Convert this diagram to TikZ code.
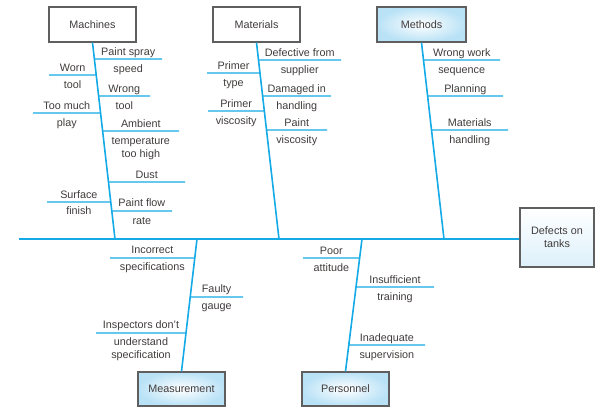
\documentclass[tikz,border=0pt]{standalone}
\usepackage{fontspec}
\setmainfont{Liberation Sans}
\usetikzlibrary{calc, positioning}
\definecolor{bonecyan}{RGB}{20,170,230}
\definecolor{boxgray}{RGB}{95,95,95}
\definecolor{boxblue}{RGB}{185,226,246}
\definecolor{txtgray}{RGB}{65,60,60}
\newcommand{\catfont}{\fontsize{10.8}{13}\selectfont}
\tikzset{
  catbox/.style={rectangle, draw=boxgray, line width=1.2pt, fill=white,
    minimum width=87pt, minimum height=35pt, font=\catfont, text=txtgray},
  bluebox/.style={catbox, inner color=white, outer color=boxblue},
  spine/.style={draw=bonecyan, line width=1.8pt},
  bone/.style={draw=bonecyan, line width=1.6pt},
  twig/.style={draw=bonecyan, line width=1.3pt},
  lbl/.style={font=\catfont, text=txtgray, inner sep=0pt, align=center}
}
% #1 bone name, #2 y, #3 free x, #4 upper text, #5 lower text
\newcommand{\cause}[5]{%
  \coordinate (#1#2) at (intersection of #1top--#1bot and 0,#2--600,#2);
  \coordinate (#1#2end) at (#3,#2);
  \draw[twig] (#1#2) -- node[lbl, anchor=base, yshift=4pt] {#4}
    node[lbl, anchor=base, yshift=-13pt] {#5} (#1#2end);
}
% same, lower text on two lines
\newcommand{\causetwo}[6]{%
  \coordinate (#1#2) at (intersection of #1top--#1bot and 0,#2--600,#2);
  \coordinate (#1#2end) at (#3,#2);
  \draw[twig] (#1#2) -- node[lbl, anchor=base, yshift=4pt] {#4}
    node[lbl, anchor=base, yshift=-13pt] {#5}
    node[lbl, anchor=base, yshift=-26pt] {#6} (#1#2end);
}

\begin{document}
\begin{tikzpicture}[x=1pt, y=-1pt]
    \useasboundingbox (0,0) rectangle (600,416);

    % Categories
    \node[catbox] (machines) at (92.5,24.5) {Machines};
    \node[catbox] (materials) at (256.5,24.5) {Materials};
    \node[bluebox, minimum width=89pt] (methods) at (421.5,24.5) {Methods};
    \node[bluebox, minimum height=34pt] (measure) at (181.5,389) {Measurement};
    \node[bluebox, minimum height=34pt] (personnel) at (345.5,389) {Personnel};

    % Effect
    \node[catbox, minimum width=74pt, minimum height=59pt, top color=white,
      bottom color=boxblue!50, align=center] (defects) at (557,237.5) {Defects on\\tanks};

    % Spine
    \coordinate (tail) at (19,239);
    \draw[spine] (tail) -- (tail -| defects.west);

    % Bones
    \coordinate (machtop) at (machines.south);
    \coordinate (matltop) at (materials.south);
    \coordinate (methtop) at (methods.south);
    \coordinate (meastop) at (197,239);
    \coordinate (perstop) at (362,239);
    \coordinate (machbot) at (115,239);
    \coordinate (matlbot) at (279,239);
    \coordinate (methbot) at (444,239);
    \coordinate (measbot) at (measure.north);
    \coordinate (persbot) at (personnel.north);
    \draw[bone] (machines.south) -- (machbot);
    \draw[bone] (materials.south) -- (matlbot);
    \draw[bone] (methods.south) -- (methbot);
    \draw[bone] (meastop) -- (measure.north);
    \draw[bone] (perstop) -- (personnel.north);

    % Machines
    \cause{mach}{59}{162}{Paint spray}{speed}
    \cause{mach}{96}{150}{Wrong}{tool}
    \causetwo{mach}{131}{179}{Ambient}{temperature}{too high}
    \cause{mach}{182}{185}{Dust}{}
    \cause{mach}{211}{172}{Paint flow}{rate}
    \cause{mach}{75}{49}{Worn}{tool}
    \cause{mach}{113}{33}{Too much}{play}
    \cause{mach}{202}{47}{Surface}{finish}

    % Materials
    \cause{matl}{60}{341}{Defective from}{supplier}
    \cause{matl}{96}{331}{Damaged in}{handling}
    \cause{matl}{130}{327}{Paint}{viscosity}
    \cause{matl}{73}{207}{Primer}{type}
    \cause{matl}{111}{208}{Primer}{viscosity}

    % Methods
    \cause{meth}{60}{500}{Wrong work}{sequence}
    \cause{meth}{96}{503}{Planning}{}
    \cause{meth}{130}{508}{Materials}{handling}

    % Measurement
    \cause{meas}{258}{110}{Incorrect}{specifications}
    \cause{meas}{297}{243}{Faulty}{gauge}
    \causetwo{meas}{333}{96}{Inspectors don't}{understand}{specification}

    % Personnel
    \cause{pers}{258}{303}{Poor}{attitude}
    \cause{pers}{287}{434}{Insufficient}{training}
    \cause{pers}{345}{425}{Inadequate}{supervision}
\end{tikzpicture}
\end{document}
